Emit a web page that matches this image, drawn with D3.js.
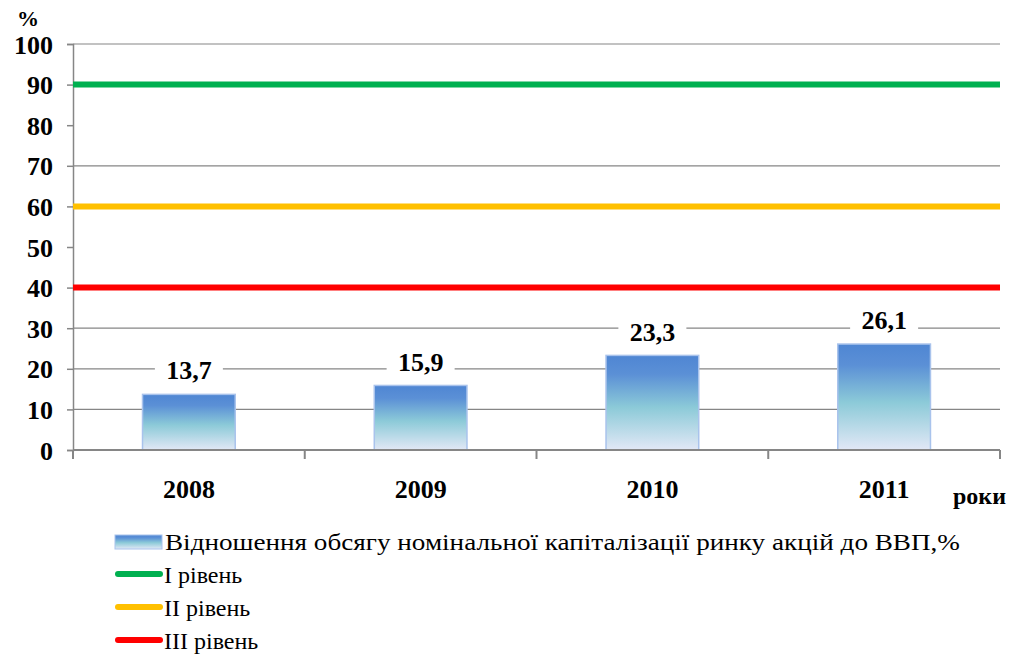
<!DOCTYPE html>
<html><head><meta charset="utf-8">
<script src="https://cdn.jsdelivr.net/npm/d3@7"></script>
<style>body{margin:0;background:#fff}svg{display:block}</style>
</head><body><svg id="c" width="1011" height="655" font-family="Liberation Serif, DejaVu Serif, Noto Serif, serif" font-weight="bold"></svg>
<script>
const years = ["2008","2009","2010","2011"];
const ratio = [13.7, 15.9, 23.3, 26.1];
const ratioLabels = ["13,7","15,9","23,3","26,1"];
const levelNames = ["I рівень","II рівень","III рівень"];
const levelValues = [90, 60, 40];
const levelColors = ["#00b050","#ffc000","#ff0000"];
const yTicks = [0,10,20,30,40,50,60,70,80,90,100];
const gridTicks = [10,20,30,70,100];
const seriesName = "Відношення обсягу номінальної капіталізації ринку акцій до ВВП,%";

const FONT = "'Liberation Serif', 'DejaVu Serif', 'Noto Serif', serif";
const svg = d3.select("#c");
const L=73,R=1000,T=44,B=450;
const x = d3.scaleBand().domain(years).range([L,R]).paddingInner(0.6).paddingOuter(0.3);
const xb = d3.scaleBand().domain(years).range([L,R]);
const y = d3.scaleLinear().domain([0,100]).range([B,T]);

const defs = svg.append("defs");
const g = defs.append("linearGradient").attr("id","bg").attr("x1",0).attr("y1",0).attr("x2",0).attr("y2",1);
g.append("stop").attr("offset","0%").attr("stop-color","#4f86d3");
g.append("stop").attr("offset","20%").attr("stop-color","#5b90d6");
g.append("stop").attr("offset","55%").attr("stop-color","#8ccad8");
g.append("stop").attr("offset","100%").attr("stop-color","#e2e8f6");

svg.append("g").selectAll("line").data(gridTicks).join("line")
  .attr("x1",L).attr("x2",R).attr("y1",d=>y(d)).attr("y2",d=>y(d))
  .attr("stroke","#868686").attr("stroke-width",1.2);

const ya = svg.append("g").attr("transform",`translate(${L},0)`)
  .call(d3.axisLeft(y).tickValues(yTicks).tickSize(6).tickPadding(14).tickFormat(d3.format("d")));
ya.attr("font-family",FONT).attr("font-size",26).attr("font-weight","bold");
ya.select(".domain").attr("stroke","#868686").attr("stroke-width",1.5);
ya.selectAll(".tick line").attr("stroke","#868686").attr("stroke-width",1.5);
ya.selectAll("text").attr("fill","#000").attr("font-family",FONT).attr("dy","0.35em");

svg.append("g").selectAll("rect").data(years).join("rect")
  .attr("x",d=>x(d)).attr("width",x.bandwidth())
  .attr("y",(d,i)=>y(ratio[i])).attr("height",(d,i)=>B-y(ratio[i]))
  .attr("fill","url(#bg)").attr("stroke","#a9c3ec").attr("stroke-width",1.5);

svg.append("g").selectAll("line").data(levelValues).join("line")
  .attr("x1",L).attr("x2",R).attr("y1",d=>y(d)).attr("y2",d=>y(d))
  .attr("stroke",(d,i)=>levelColors[i]).attr("stroke-width",6);

const xa = svg.append("g").attr("transform",`translate(0,${B})`);
xa.append("line").attr("x1",L).attr("x2",R).attr("stroke","#868686").attr("stroke-width",2);
xa.selectAll("line.t").data(years.concat(["end"])).join("line").attr("class","t")
  .attr("x1",(d,i)=>i<4?xb(d):R).attr("x2",(d,i)=>i<4?xb(d):R).attr("y1",0).attr("y2",9)
  .attr("stroke","#868686").attr("stroke-width",2);
xa.selectAll("text").data(years).join("text")
  .attr("x",d=>xb(d)+xb.bandwidth()/2).attr("y",48).attr("text-anchor","middle")
  .attr("font-family",FONT).attr("font-size",26).text(d=>d);

const lab = svg.append("g").selectAll("g").data(years).join("g")
  .attr("transform",(d,i)=>`translate(${x(d)+x.bandwidth()/2},${y(ratio[i])-24})`);
lab.append("rect").attr("x",-34).attr("y",-16).attr("width",68).attr("height",32).attr("fill","#fff");
lab.append("text").attr("text-anchor","middle").attr("dy","0.35em").attr("font-family",FONT).attr("font-size",26).text((d,i)=>ratioLabels[i]);

svg.append("text").attr("x",28).attr("y",26).attr("text-anchor","middle").attr("font-family",FONT).attr("font-size",22).text("%");
svg.append("text").attr("x",1006).attr("y",504).attr("text-anchor","end").attr("font-family",FONT).attr("font-size",24).text("роки");

const lg = svg.append("g");
lg.append("rect").attr("x",115).attr("y",535).attr("width",47).attr("height",14).attr("fill","url(#bg)").attr("stroke","#a9c3ec");
lg.append("text").attr("x",165).attr("y",550).attr("font-family",FONT).attr("font-size",24).attr("font-weight","normal").attr("textLength",795).attr("lengthAdjust","spacingAndGlyphs").text(seriesName);
const rows = lg.selectAll("g").data(levelNames).join("g").attr("transform",(d,i)=>`translate(0,${574+i*33})`);
rows.append("line").attr("x1",118).attr("x2",160).attr("stroke",(d,i)=>levelColors[i]).attr("stroke-width",6).attr("stroke-linecap","round");
rows.append("text").attr("x",164).attr("y",9).attr("font-family",FONT).attr("font-size",24).attr("font-weight","normal").text(d=>d);
</script></body></html>
